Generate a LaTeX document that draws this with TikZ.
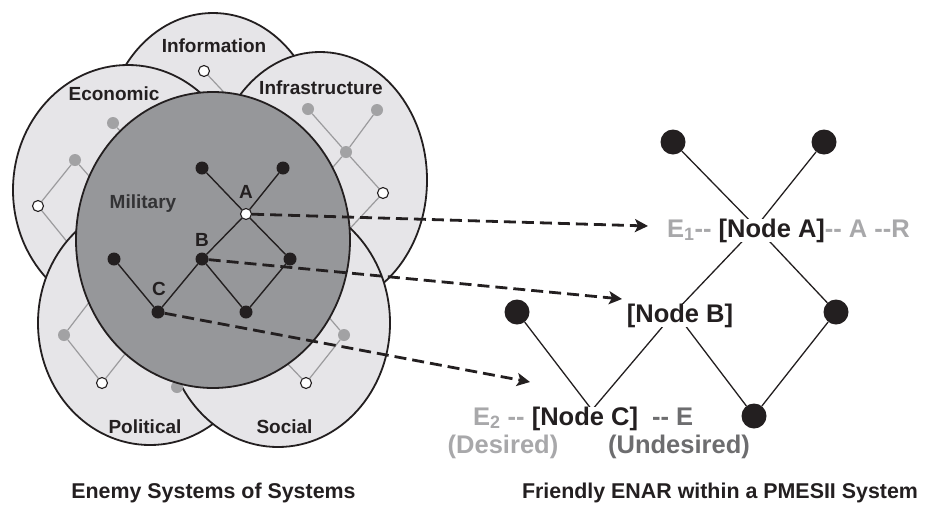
\documentclass[tikz,border=0pt]{standalone}
\usepackage{fontspec}
\setmainfont{Liberation Sans}[Ligatures=TeXOff]
\usetikzlibrary{arrows.meta}
\definecolor{lightfill}{HTML}{E6E5E8}
\definecolor{milfill}{HTML}{96979A}
\definecolor{greyline}{HTML}{9B9B9D}
\definecolor{greydot}{HTML}{A2A2A4}
\definecolor{txtlight}{HTML}{A8A8AA}
\definecolor{txtmid}{HTML}{6D6D6F}
\definecolor{ink}{HTML}{231F20}
\definecolor{milink}{HTML}{333335}
\begin{document}
\begin{tikzpicture}[x=1pt,y=-1pt,
  domainfill/.style={draw=ink,line width=1.8pt,fill=lightfill},
  milstyle/.style={draw=ink,line width=1.8pt,fill=milfill},
  gline/.style={draw=greyline,line width=1.2pt},
  gdot/.style={circle,fill=greydot,inner sep=0pt,minimum size=12pt},
  wdot/.style={circle,draw=ink,line width=1.1pt,fill=white,inner sep=0pt,minimum size=11pt},
  bdot/.style={circle,fill=ink,inner sep=0pt,minimum size=13pt},
  bigdot/.style={circle,fill=ink,inner sep=0pt,minimum size=25pt},
  mline/.style={draw=ink,line width=1.4pt},
  rline/.style={draw=ink,line width=1.3pt},
  lbl/.style={font=\fontsize{19}{22}\selectfont\bfseries,text=ink,anchor=base,inner sep=0pt},
  ttl/.style={font=\fontsize{21.4}{25}\selectfont\bfseries,text=ink,anchor=base,inner sep=0pt},
  rtext/.style={font=\fontsize{25.5}{30}\selectfont\bfseries,text=ink,anchor=base,inner sep=0pt,fill=white},
  darrow/.style={draw=ink,line width=2.8pt,dash pattern=on 12pt off 6pt,-{Stealth[length=13pt,width=13pt,inset=3pt]}}
]
\useasboundingbox (0,0) rectangle (934,504);

% ---- Information
\draw[domainfill] (213,140) ellipse [x radius=108pt, y radius=127pt];
\node[wdot] (iw) at (204,71) {};
\coordinate (ie) at (250,120);
\draw[gline] (iw) -- (ie);

% ---- Economic
\draw[domainfill] (128,190) ellipse [x radius=115pt, y radius=125pt];
\node[gdot] (eg1) at (113,123) {};
\node[gdot] (eg2) at (75,160) {};
\node[wdot] (ew) at (38,206) {};
\coordinate (ee1) at (150,165);
\coordinate (ee2) at (110,200);
\coordinate (ee3) at (90,270);
\draw[gline] (eg1) -- (ee1);
\draw[gline] (eg2) -- (ee2);
\draw[gline] (eg2) -- (ew);
\draw[gline] (ew) -- (ee3);

% ---- Infrastructure
\draw[domainfill] (320,180) ellipse [x radius=107pt, y radius=128pt];
\node[gdot] (fg1) at (308,109) {};
\node[gdot] (fg2) at (377,110) {};
\node[gdot] (fg3) at (346,152) {};
\node[wdot] (fw) at (383,193) {};
\coordinate (fe1) at (315,188);
\coordinate (fe2) at (330,250);
\draw[gline] (fg1) -- (fg3);
\draw[gline] (fg2) -- (fg3);
\draw[gline] (fg3) -- (fw);
\draw[gline] (fg3) -- (fe1);
\draw[gline] (fw) -- (fe2);

% ---- Political
\draw[domainfill] (150,323) ellipse [x radius=112pt, y radius=122pt];
\node[gdot] (pg) at (64,335) {};
\node[wdot] (pw) at (102,383) {};
\coordinate (pe1) at (110,275);
\coordinate (pe2) at (140,335);
\draw[gline] (pg) -- (pe1);
\draw[gline] (pg) -- (pw);
\draw[gline] (pw) -- (pe2);

% ---- Social
\draw[domainfill] (278,323) ellipse [x radius=112pt, y radius=124pt];
\node[gdot] (sg) at (344,335) {};
\node[wdot] (sw) at (306,383) {};
\node[gdot] (sg2) at (177,387) {};
\coordinate (se1) at (310,295);
\coordinate (se2) at (265,340);
\draw[gline] (sg) -- (se1);
\draw[gline] (sg) -- (sw);
\draw[gline] (sw) -- (se2);

% ---- Military
\draw[milstyle] (213,240) ellipse [x radius=137pt, y radius=148pt];
\node[bdot] (mTL) at (202,168) {};
\node[bdot] (mTR) at (283,168) {};
\node[wdot] (mA) at (246,214) {};
\node[bdot] (mB) at (202,259) {};
\node[bdot] (mR) at (290,259) {};
\node[bdot] (mL) at (114,259) {};
\node[bdot] (mC) at (158,312) {};
\node[bdot] (mBot) at (246,312) {};
\draw[mline] (mTL) -- (mA);
\draw[mline] (mTR) -- (mA);
\draw[mline] (mA) -- (mB);
\draw[mline] (mA) -- (mR);
\draw[mline] (mB) -- (mC);
\draw[mline] (mB) -- (mBot);
\draw[mline] (mR) -- (mBot);
\draw[mline] (mL) -- (mC);

% ---- labels left
\node[lbl] (lInfo) at (214,52) {Information};
\node[lbl] (lEco) at (114,100) {Economic};
\node[lbl] (lInf) at (321,94) {Infrastructure};
\node[lbl,text=milink] (lMil) at (143,208) {Military};
\node[lbl] (lPol) at (145,433) {Political};
\node[lbl] (lSoc) at (284.5,433) {Social};
\node[lbl] (lA) at (246,198) {A};
\node[lbl] (lB) at (202,246) {B};
\node[lbl] (lC) at (159,295) {C};

% ---- right network
\node[bigdot] (rTL) at (673,142) {};
\node[bigdot] (rTR) at (824,142) {};
\node[bigdot] (rL) at (517,312) {};
\node[bigdot] (rR) at (836,312) {};
\node[bigdot] (rBot) at (754,416) {};
\coordinate (jA) at (756,227);
\coordinate (jB) at (675,312);
\coordinate (jC) at (592,410);
\draw[rline] (rTL) -- (jA);
\draw[rline] (rTR) -- (jA);
\draw[rline] (jA) -- (jB);
\draw[rline] (jA) -- (rR);
\draw[rline] (jB) -- (jC);
\draw[rline] (jB) -- (rBot);
\draw[rline] (rL) -- (jC);
\draw[rline] (rR) -- (rBot);

\node[rtext,anchor=base west] (nA) at (667,237) {{\color{txtlight}E\textsubscript{1}-- }[Node A]{\color{txtlight}-- A --R}};
\node[rtext] (nB) at (680,322) {[Node B]};
\node[rtext,anchor=base west] (nC) at (473,425) {{\color{txtlight}E\textsubscript{2} -- }[Node C]{\color{txtmid}\ \ -- E}};
\node[rtext,text=txtlight] (nDes) at (503,453) {(Desired)};
\node[rtext,text=txtmid] (nUnd) at (679,453) {(Undesired)};

% ---- dashed arrows
\coordinate (tA) at (648,226);
\coordinate (tB) at (622,299);
\coordinate (tC) at (530,382);
\draw[darrow] (mA) -- (tA);
\draw[darrow] (mB) -- (tB);
\draw[darrow] (mC) -- (tC);

% ---- titles
\node[ttl] (t1) at (213.5,498) {Enemy Systems of Systems};
\node[ttl] (t2) at (720,498) {Friendly ENAR within a PMESII System};
\end{tikzpicture}
\end{document}
